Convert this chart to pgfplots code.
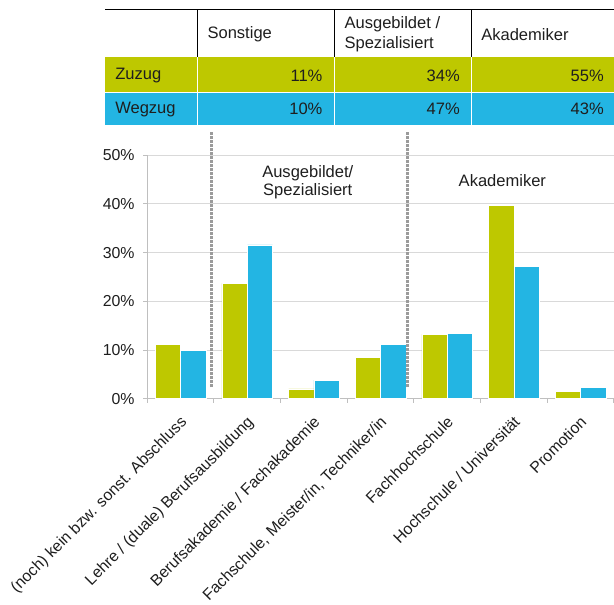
\documentclass[border=0pt]{standalone}
\usepackage{pgfplots}
\pgfplotsset{compat=1.18}
\usepackage{fontspec}
\setmainfont{Liberation Sans}

\definecolor{zuzug}{RGB}{190,200,0}
\definecolor{wegzug}{RGB}{35,181,227}
\definecolor{gridgray}{RGB}{217,217,217}
\definecolor{axisgray}{RGB}{191,191,191}
\definecolor{dotgray}{RGB}{155,155,155}
\definecolor{txt}{RGB}{30,30,30}

\newcommand\tf{\fontsize{12.4}{15.2}\selectfont}

\begin{document}
\begin{tikzpicture}
\useasboundingbox (0,0) rectangle (460.5pt,-453pt);

% table above the chart (pixel units, origin top left)
\begin{scope}[x=0.75pt,y=-0.75pt]
  \fill[zuzug] (105,57) rectangle (614,92.3);
  \fill[wegzug] (105,93.3) rectangle (614,125);
  \draw[white, line width=0.75pt] (197.3,57) -- (197.3,125)
    (334.3,57) -- (334.3,125) (471,57) -- (471,125);
  \draw[black, line width=0.75pt] (105,9.3) -- (614,9.3);
  \draw[black, line width=0.75pt] (197.3,9.3) -- (197.3,57)
    (334.3,9.3) -- (334.3,57) (471,9.3) -- (471,57);
  \begin{scope}[every node/.style={inner sep=0pt, text=txt, font=\tf}]
    \node[anchor=west] at (207.3,34) {Sonstige};
    \node[anchor=west, align=left] at (344.3,34.5) {Ausgebildet /\\Spezialisiert};
    \node[anchor=west] at (481,34.5) {Akademiker};
    \node[anchor=west] at (115,76) {Zuzug};
    \node[anchor=west] at (115,109.5) {Wegzug};
    \node[anchor=east] at (322.7,75.5) {11\%};
    \node[anchor=east] at (460,75.5) {34\%};
    \node[anchor=east] at (604,75.5) {55\%};
    \node[anchor=east] at (322.7,109) {10\%};
    \node[anchor=east] at (460,109) {47\%};
    \node[anchor=east] at (604,109) {43\%};
  \end{scope}
\end{scope}

\begin{axis}[
  at={(110.475pt,-299.025pt)}, anchor=south west,
  scale only axis, width=350pt, height=182.55pt,
  xmin=-0.5, xmax=6.5, ymin=0, ymax=50,
  ybar, bar width=0.38,
  axis x line*=bottom, axis y line*=left,
  axis line style={axisgray, line width=0.75pt},
  xtick={0,...,6},
  xticklabels={(noch) kein bzw. sonst. Abschluss,
    Lehre / (duale) Berufsausbildung,
    Berufsakademie / Fachakademie,
    {Fachschule, Meister/in, Techniker/in},
    Fachhochschule,
    Hochschule / Universität,
    Promotion},
  minor xtick={-0.5,0.5,...,6.5},
  major x tick style={draw=none},
  minor x tick style={axisgray, line width=0.75pt},
  ytick={0,10,...,50},
  y tick style={axisgray, line width=0.75pt},
  tick align=outside,
  major tick length=3pt, minor tick length=3pt,
  ymajorgrids, grid style={gridgray, line width=0.75pt},
  yticklabel={\pgfmathprintnumber{\tick}\%},
  /pgf/number format/assume math mode=true,
  y tick label style={font=\fontsize{11.9}{14}\selectfont, text=txt, xshift=-3pt},
  x tick label style={font=\fontsize{11.9}{14}\selectfont, text=txt,
    xshift=-1pt, yshift=-9pt, rotate=45, anchor=north east, inner sep=0pt},
  clip=false,
]
\addplot[fill=zuzug, draw=white, line width=0.5pt, bar shift=-0.19]
  coordinates {(0,11.2) (1,23.7) (2,2.0) (3,8.4) (4,13.2) (5,39.7) (6,1.5)};
\addplot[fill=wegzug, draw=white, line width=0.5pt, bar shift=0.19]
  coordinates {(0,10.0) (1,31.6) (2,3.8) (3,11.2) (4,13.4) (5,27.2) (6,2.3)};

\draw[dotgray, line width=2.2pt, dash pattern=on 2pt off 1pt]
  (axis cs:0.468,2.4) -- (axis cs:0.468,54.8);
\draw[dotgray, line width=2.2pt, dash pattern=on 2pt off 1pt]
  (axis cs:3.396,2.4) -- (axis cs:3.396,54.8);

\node[font=\fontsize{12.4}{13.5}\selectfont, align=center, text=txt]
  at (axis cs:1.907,44.4) {Ausgebildet/\\Spezialisiert};
\node[font=\fontsize{12.4}{13.5}\selectfont, text=txt]
  at (axis cs:4.826,44.8) {Akademiker};
\end{axis}
\end{tikzpicture}
\end{document}
